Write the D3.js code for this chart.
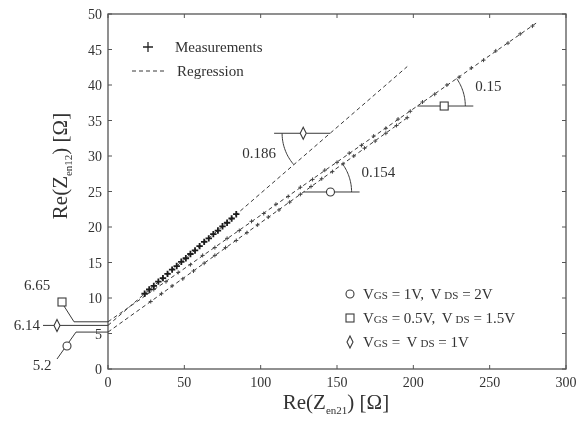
<!DOCTYPE html>
<html>
<head>
<meta charset="utf-8">
<script src="https://cdn.jsdelivr.net/npm/d3@7"></script>
<style>
  html, body { margin: 0; padding: 0; background: #fff; }
  svg text { font-family: "Liberation Serif", "DejaVu Serif", serif; fill: #333; }
</style>
</head>
<body>
<svg id="chart" width="583" height="426"></svg>
<script>
// Axis ticks
const xTicks = [0, 50, 100, 150, 200, 250, 300];
const yTicks = [0, 5, 10, 15, 20, 25, 30, 35, 40, 45, 50];

// Bias conditions
const seriesNames = ["VGS = 1V, VDS = 2V", "VGS = 0.5V, VDS = 1.5V", "VGS = VDS = 1V"];
const seriesSymbols = ["circle", "square", "diamond"];

// Regression results: intercept and slope for each bias
const intercepts = [5.2, 6.65, 6.14];
const slopes = [0.154, 0.15, 0.186];
const fitEndX = [197, 281, 196];

// Measured points, VGS = 1V, VDS = 2V
const measX1 = [28, 35, 42, 49, 56, 63, 70, 77, 84, 91, 98, 105, 112, 119, 126, 133, 140, 147, 154, 161, 168, 175, 182, 189, 196];
const measY1 = [9.5, 10.6, 11.7, 12.7, 13.8, 14.9, 16.0, 17.1, 18.1, 19.2, 20.3, 21.4, 22.4, 23.5, 24.6, 25.7, 26.8, 27.8, 28.9, 30.0, 31.1, 32.1, 33.2, 34.3, 35.4];

// Measured points, VGS = 0.5V, VDS = 1.5V
const measX2 = [30, 38, 46, 54, 62, 70, 78, 86, 94, 102, 110, 118, 126, 134, 142, 150, 158, 166, 174, 182, 190, 198, 206, 214, 222, 230, 238, 246, 254, 262, 270, 278];
const measY2 = [11.2, 12.3, 13.6, 14.7, 16.0, 17.1, 18.4, 19.5, 20.8, 21.9, 23.2, 24.3, 25.6, 26.7, 28.0, 29.1, 30.4, 31.5, 32.8, 33.9, 35.2, 36.3, 37.6, 38.7, 40.0, 41.1, 42.4, 43.5, 44.8, 45.9, 47.2, 48.3];

// Measured points, VGS = VDS = 1V
const measX3 = [24, 27, 30, 33, 36, 39, 42, 45, 48, 51, 54, 57, 60, 63, 66, 69, 72, 75, 78, 81, 84];
const measY3 = [10.6, 11.2, 11.7, 12.3, 12.8, 13.4, 14.0, 14.5, 15.1, 15.6, 16.2, 16.7, 17.3, 17.9, 18.4, 19.0, 19.5, 20.1, 20.6, 21.2, 21.8];

const measX = [measX1, measX2, measX3];
const measY = [measY1, measY2, measY3];

// Slope annotations: y value of the vertex and side of the horizontal arm
const slopeAnnotY = [24.93, 37.04, 33.2];
const slopeArmSide = [1, 1, -1];
const slopeLabels = ["0.154", "0.15", "0.186"];
const interceptLabels = ["5.2", "6.65", "6.14"];

const svg = d3.select("#chart");
// soft print look
svg.append("defs").append("filter").attr("id", "soft")
  .append("feGaussianBlur").attr("stdDeviation", 0.45);
const root = svg.append("g").attr("filter", "url(#soft)");

const x = d3.scaleLinear().domain([0, 300]).range([108, 566]);
const y = d3.scaleLinear().domain([0, 50]).range([369, 14]);
const ink = "#3a3a3a";

// symbol drawing
function marker(g, kind, cx, cy) {
  const s = g.append("g").attr("transform", `translate(${cx},${cy})`);
  let el;
  if (kind === "circle") el = s.append("circle").attr("r", 4);
  else if (kind === "square") el = s.append("rect").attr("x", -4).attr("y", -4).attr("width", 8).attr("height", 8);
  else el = s.append("path").attr("d", "M0,-6L3,0L0,6L-3,0Z");
  el.attr("fill", "#fff").attr("stroke", ink).attr("stroke-width", 1.1);
  return s;
}

// frame
root.append("rect")
  .attr("x", x(0)).attr("y", y(50))
  .attr("width", x(300) - x(0)).attr("height", y(0) - y(50))
  .attr("fill", "none").attr("stroke", "#555").attr("stroke-width", 1.3);

// inward ticks on all four sides
const tl = 4;
const tg = root.append("g").attr("stroke", "#555").attr("stroke-width", 1);
xTicks.forEach(t => {
  tg.append("line").attr("x1", x(t)).attr("x2", x(t)).attr("y1", y(0)).attr("y2", y(0) - tl);
  tg.append("line").attr("x1", x(t)).attr("x2", x(t)).attr("y1", y(50)).attr("y2", y(50) + tl);
});
yTicks.forEach(t => {
  tg.append("line").attr("x1", x(0)).attr("x2", x(0) + tl).attr("y1", y(t)).attr("y2", y(t));
  tg.append("line").attr("x1", x(300)).attr("x2", x(300) - tl).attr("y1", y(t)).attr("y2", y(t));
});

// tick labels
root.append("g").selectAll("text").data(xTicks).join("text")
  .attr("x", d => x(d)).attr("y", y(0) + 18)
  .attr("text-anchor", "middle").attr("font-size", 14).text(d => d);
root.append("g").selectAll("text").data(yTicks).join("text")
  .attr("x", x(0) - 6).attr("y", d => y(d) + 5)
  .attr("text-anchor", "end").attr("font-size", 14).text(d => d);

// axis titles
const xt = root.append("text").attr("x", 336).attr("y", 409).attr("text-anchor", "middle").attr("font-size", 21);
xt.append("tspan").text("Re(Z");
xt.append("tspan").attr("font-size", 11).attr("dy", 5).text("en21");
xt.append("tspan").attr("dy", -5).text(") [Ω]");

const yt = root.append("text").attr("transform", "translate(67,166) rotate(-90)").attr("text-anchor", "middle").attr("font-size", 21);
yt.append("tspan").text("Re(Z");
yt.append("tspan").attr("font-size", 11).attr("dy", 5).text("en12");
yt.append("tspan").attr("dy", -5).text(") [Ω]");

// regression lines
const line = d3.line().x(d => x(d[0])).y(d => y(d[1]));
intercepts.forEach((b, i) => {
  root.append("path")
    .attr("d", line([[0, b], [fitEndX[i], b + slopes[i] * fitEndX[i]]]))
    .attr("fill", "none").attr("stroke", ink).attr("stroke-width", 1)
    .attr("stroke-dasharray", "4,3");
});

// measurements
const plusSmall = "M-2,0H2M0,-2V2";
const plusDense = "M-3.2,0H3.2M0,-3.2V3.2";
measX.forEach((xs, i) => {
  root.append("g").selectAll("path").data(xs.map((v, j) => [v, measY[i][j]])).join("path")
    .attr("transform", d => `translate(${x(d[0])},${y(d[1])})`)
    .attr("d", i === 2 ? plusDense : plusSmall)
    .attr("stroke", i === 2 ? "#1a1a1a" : "#444")
    .attr("stroke-width", i === 2 ? 1.8 : 1)
    .attr("fill", "none");
});

// intercept annotations
const ann = root.append("g");
const ya = intercepts.map(v => y(v));
// square (6.65)
ann.append("path").attr("d", `M${x(0)},${ya[1]}H74L64,306`).attr("fill", "none").attr("stroke", ink);
marker(ann, "square", 62, 302);
ann.append("text").attr("x", 37).attr("y", 290).attr("text-anchor", "middle").attr("font-size", 15).text(interceptLabels[1]);
// diamond (6.14)
ann.append("path").attr("d", `M${x(0)},${ya[2]}H43`).attr("fill", "none").attr("stroke", ink);
marker(ann, "diamond", 57, ya[2]);
ann.append("text").attr("x", 40).attr("y", ya[2] + 5).attr("text-anchor", "end").attr("font-size", 15).text(interceptLabels[2]);
// circle (5.2)
ann.append("path").attr("d", `M${x(0)},${ya[0]}H76L57,359`).attr("fill", "none").attr("stroke", ink);
marker(ann, "circle", 67, 346);
ann.append("text").attr("x", 42).attr("y", 370).attr("text-anchor", "middle").attr("font-size", 15).text(interceptLabels[0]);

// slope annotations
const kx = (x(300) - x(0)) / 300, ky = (y(0) - y(50)) / 50;
slopes.forEach((m, i) => {
  const yv = slopeAnnotY[i];
  const vx = x((yv - intercepts[i]) / m), vy = y(yv);
  const side = slopeArmSide[i];
  const arm = 56, r = 48;
  const g = root.append("g");
  g.append("line").attr("x1", vx).attr("x2", vx + side * arm).attr("y1", vy).attr("y2", vy)
    .attr("stroke", ink).attr("stroke-width", 1);
  const th = Math.atan(m * ky / kx);
  const a0 = side > 0 ? 0 : Math.PI;
  const a1 = side > 0 ? -th : Math.PI - th;
  const pts = d3.range(0, 1.0001, 0.05).map(t => {
    const a = a0 + (a1 - a0) * t;
    return [vx + r * Math.cos(a), vy + r * Math.sin(a)];
  });
  g.append("path").attr("d", d3.line()(pts)).attr("fill", "none").attr("stroke", ink).attr("stroke-width", 1);
  marker(g, seriesSymbols[i], vx + side * arm * 0.48, vy);
  if (side > 0) {
    g.append("text").attr("x", vx + 58).attr("y", vy - 15).attr("font-size", 15).text(slopeLabels[i]);
  } else {
    g.append("text").attr("x", vx - 54).attr("y", vy + 25).attr("text-anchor", "end").attr("font-size", 15).text(slopeLabels[i]);
  }
});

// legend, top left
const lg = root.append("g");
lg.append("path").attr("transform", "translate(148,47)").attr("d", "M-5,0H5M0,-5V5").attr("stroke", "#222").attr("stroke-width", 1.3);
lg.append("text").attr("x", 175).attr("y", 52).attr("font-size", 15).text("Measurements");
lg.append("line").attr("x1", 132).attr("x2", 164).attr("y1", 71).attr("y2", 71)
  .attr("stroke", ink).attr("stroke-dasharray", "4,3");
lg.append("text").attr("x", 177).attr("y", 76).attr("font-size", 15).text("Regression");

// legend, bottom right
seriesNames.forEach((name, i) => {
  const ry = 294 + i * 24;
  marker(root, seriesSymbols[i], 350, ry);
  const t = root.append("text").attr("x", 363).attr("y", ry + 5).attr("font-size", 15);
  name.split(/(V[GD]S)/).filter(s => s.length).forEach((p, k) => {
    if (/^V[GD]S$/.test(p)) {
      t.append("tspan").attr("dx", k > 0 ? 3 : 0).text("V");
      t.append("tspan").attr("font-size", 11).attr("dx", k > 0 ? 3 : 0).text(p.slice(1));
    } else {
      t.append("tspan").text(p);
    }
  });
});
</script>
</body>
</html>
